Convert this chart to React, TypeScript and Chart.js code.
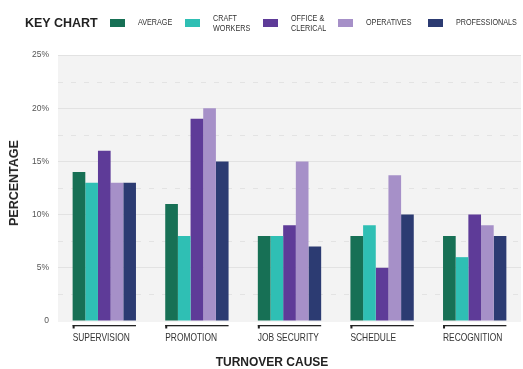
import React, { useEffect, useRef } from "react";
import { Chart, registerables } from "chart.js";
Chart.register(...registerables);

const CATEGORIES = ["SUPERVISION", "PROMOTION", "JOB SECURITY", "SCHEDULE", "RECOGNITION"];
const SERIES_LABELS = ["AVERAGE", "CRAFT WORKERS", "OFFICE & CLERICAL", "OPERATIVES", "PROFESSIONALS"];
const LEGEND_LINES = [["AVERAGE"], ["CRAFT", "WORKERS"], ["OFFICE &", "CLERICAL"], ["OPERATIVES"], ["PROFESSIONALS"]];
const AVERAGE = [14, 11, 8, 8, 8];
const CRAFT_WORKERS = [13, 8, 8, 9, 6];
const OFFICE_CLERICAL = [16, 19, 9, 5, 10];
const OPERATIVES = [13, 20, 15, 13.7, 9];
const PROFESSIONALS = [13, 15, 7, 10, 8];
const SERIES = [AVERAGE, CRAFT_WORKERS, OFFICE_CLERICAL, OPERATIVES, PROFESSIONALS];
const COLORS = ["#177055", "#2fbfb4", "#5e3b98", "#a690c8", "#2c3b72"];
const Y_MIN = 0;
const Y_MAX = 25;
const Y_STEP = 5;
const HALF_STEPS = [2.5, 7.5, 12.5, 17.5, 22.5];

const SANS = "'Liberation Sans', Arial, Helvetica, sans-serif";
const CONDENSE = 0.8;

const LEGEND_BOX_LEFT = [110, 185, 263, 338, 428];

const decor = {
  id: "decor",
  beforeDraw(chart: any) {
    const { ctx, chartArea: a } = chart;
    ctx.save();
    ctx.fillStyle = "#f3f3f3";
    ctx.fillRect(a.left, a.top, a.right - a.left, a.bottom - a.top + 1);
    ctx.restore();
  },
  beforeDatasetsDraw(chart: any) {
    const { ctx, chartArea: a, scales } = chart;
    const y = scales.y;
    ctx.save();
    ctx.strokeStyle = "#e3e3e3";
    ctx.lineWidth = 1;
    ctx.setLineDash([5, 8]);
    HALF_STEPS.forEach((v) => {
      const py = Math.round(y.getPixelForValue(v)) + 0.5;
      ctx.beginPath();
      ctx.moveTo(a.left, py);
      ctx.lineTo(a.right, py);
      ctx.stroke();
    });
    ctx.restore();
  },
  afterDraw(chart: any) {
    const { ctx, chartArea: a } = chart;
    const metas = chart.getSortedVisibleDatasetMetas();
    const first = metas[0];
    const last = metas[metas.length - 1];
    ctx.save();
    ctx.font = `10.5px ${SANS}`;
    ctx.textAlign = "left";
    ctx.textBaseline = "middle";
    CATEGORIES.forEach((c, i) => {
      const b0: any = first.data[i];
      const b1: any = last.data[i];
      const left = b0.x - b0.width / 2;
      const right = b1.x + b1.width / 2;
      const top = a.bottom + 4;
      ctx.fillStyle = "#222";
      ctx.fillRect(left, top, right - left, 1.3);
      ctx.fillRect(left, top, 2, 3.5);
      ctx.fillStyle = "#333";
      ctx.save();
      ctx.translate(left, a.bottom + 17.5);
      ctx.scale(CONDENSE, 1);
      ctx.fillText(c, 0, 0);
      ctx.restore();
    });
    ctx.restore();
  },
};

export default function App() {
  const ref = useRef<HTMLCanvasElement>(null);
  useEffect(() => {
    if (!ref.current) return;
    const chart = new Chart(ref.current, {
      type: "bar",
      data: {
        labels: CATEGORIES,
        datasets: SERIES.map((d, i) => ({
          label: SERIES_LABELS[i],
          data: d,
          backgroundColor: COLORS[i],
          borderWidth: 0,
          categoryPercentage: 0.684,
          barPercentage: 1,
        })),
      },
      options: {
        animation: false,
        responsive: false,
        devicePixelRatio: 1,
        layout: { padding: { top: 55, right: 2, left: 0, bottom: 0 } },
        plugins: { legend: { display: false }, tooltip: { enabled: false } },
        scales: {
          x: {
            afterFit: (s: any) => { s.height = 48; },
            ticks: { display: false },
            grid: { display: false },
            border: { display: false },
          },
          y: {
            min: Y_MIN,
            max: Y_MAX,
            afterFit: (s: any) => { s.width = 58; },
            ticks: {
              stepSize: Y_STEP,
              padding: 9,
              color: "#555",
              font: { family: SANS, size: 8.5 },
              callback: (v: any) => (v === 0 ? "0" : v + "%"),
            },
            grid: {
              drawTicks: false,
              color: (c: any) => (c.tick && c.tick.value === 0 ? "rgba(0,0,0,0)" : "#e2e2e2"),
            },
            border: { display: false },
          },
        },
      },
      plugins: [decor],
    });
    return () => chart.destroy();
  }, []);

  return (
    <div style={{ position: "fixed", left: 0, top: 0, width: 523, height: 369, background: "#fff", fontFamily: SANS }}>
      <canvas ref={ref} width={523} height={369} style={{ position: "absolute", left: 0, top: 0 }} />
      <div style={{ position: "absolute", left: 25, top: 23, transform: "translateY(-50%)", fontWeight: 700, fontSize: 12.5, color: "#222", whiteSpace: "nowrap" }}>
        KEY CHART
      </div>
      {LEGEND_LINES.map((lines, i) => (
        <React.Fragment key={i}>
          <div style={{ position: "absolute", left: LEGEND_BOX_LEFT[i], top: 18.5, width: 15, height: 8, background: COLORS[i] }} />
          <div style={{ position: "absolute", left: LEGEND_BOX_LEFT[i] + 28, top: 23, transform: `translateY(-50%) scaleX(${CONDENSE})`, transformOrigin: "left center", fontSize: 9, lineHeight: "9.5px", color: "#333", whiteSpace: "nowrap" }}>
            {lines.map((l, j) => (<div key={j}>{l}</div>))}
          </div>
        </React.Fragment>
      ))}
      <div style={{ position: "absolute", left: 14, top: 183, transform: "translate(-50%,-50%) rotate(-90deg)", fontWeight: 700, fontSize: 12.5, color: "#222", whiteSpace: "nowrap" }}>
        PERCENTAGE
      </div>
      <div style={{ position: "absolute", left: 272, top: 362, transform: "translate(-50%,-50%)", fontWeight: 700, fontSize: 12, color: "#222", whiteSpace: "nowrap" }}>
        TURNOVER CAUSE
      </div>
    </div>
  );
}
